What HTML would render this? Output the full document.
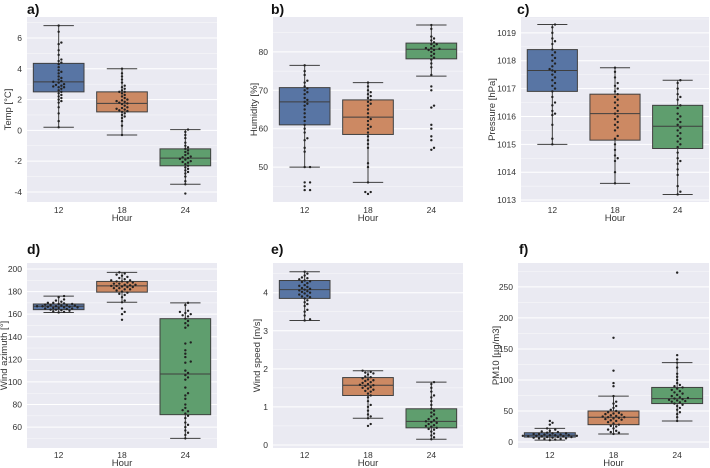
<!DOCTYPE html>
<html><head><meta charset="utf-8">
<style>
html,body{margin:0;padding:0;background:#fff;}
svg{display:block;font-family:"Liberation Sans",Arial,sans-serif;}
</style></head>
<body>
<svg id="fig" width="710" height="468" viewBox="0 0 710 468"></svg>
<script>
const categories = ["12","18","24"];
const colors = ["#5875a4","#cc8963","#5f9e6e"];

// box stats per panel: [q1, median, q3, whiskerLow, whiskerHigh] for each category
const statsA = [[2.5,3.15,4.35,0.2,6.8],[1.2,1.75,2.5,-0.3,4.0],[-2.3,-1.8,-1.2,-3.5,0.05]];
const statsB = [[61,67,70.7,50,76.5],[58.5,63,67.5,46,72],[78.2,80.7,82.3,73.7,87]];
const statsC = [[1016.9,1017.65,1018.4,1015,1019.3],[1015.15,1016.1,1016.8,1013.6,1017.75],[1014.85,1015.65,1016.4,1013.2,1017.3]];
const statsD = [[164,167,169,161.5,176],[179.5,185,189,170.5,197],[71,107,156,50,170]];
const statsE = [[3.85,4.08,4.32,3.27,4.55],[1.3,1.57,1.77,0.7,1.95],[0.45,0.62,0.95,0.15,1.65]];
const statsF = [[8,11,15,3,22],[28,40,50,13,74],[62,70,88,34,128]];

// swarm points
const ptsA12 = [6.8,6.4,5.7,5.6,5.2,4.9,4.6,4.5,4.4,4.3,4.1,3.9,3.8,3.7,3.5,3.4,3.3,3.2,3.15,3.1,3.0,2.95,2.9,2.85,2.8,2.8,2.7,2.6,2.5,2.4,2.3,2.2,2.1,2.0,1.9,1.8,1.5,1.1,0.6,0.2];
const ptsA18 = [4.0,3.7,3.5,3.3,3.1,2.9,2.8,2.7,2.6,2.5,2.5,2.4,2.3,2.2,2.1,2.0,1.95,1.9,1.85,1.8,1.75,1.7,1.6,1.5,1.45,1.4,1.35,1.3,1.25,1.2,1.1,1.0,0.9,0.8,0.6,0.3,-0.3];
const ptsA24 = [0.05,-0.1,-0.3,-0.5,-0.8,-1.0,-1.1,-1.2,-1.3,-1.4,-1.5,-1.6,-1.7,-1.75,-1.8,-1.85,-1.9,-2.0,-2.05,-2.1,-2.2,-2.3,-2.4,-2.5,-2.6,-2.7,-2.8,-3.0,-3.3,-3.5,-4.1];
const ptsB12 = [76.5,75,74,72.5,72,71,70.5,70,69.5,69,68,67.5,67,66.5,66,65,64,63,62,61,60,59,57.5,57,55,54,50,50,46,46,45,44,44];
const ptsB18 = [72,71,70,69.5,69,68.5,68,67.5,67,66.5,66,65,64,63,62.5,62,61,60.5,60,59,58,57,56,55,51,50,46,43.5,43.5,43];
const ptsB24 = [87,86,84,83.5,83,82.5,82,82,81.5,81,81,80.8,80.5,80.5,80,79.5,79,78.5,78,77,76,74,71,70,66,65.5,61,60,58,57,55,54.5];
const ptsC12 = [1019.3,1019.2,1019.0,1018.8,1018.7,1018.6,1018.4,1018.3,1018.2,1018.1,1018.0,1017.9,1017.8,1017.7,1017.65,1017.6,1017.5,1017.4,1017.3,1017.2,1017.1,1017.0,1016.9,1016.7,1016.5,1016.4,1016.2,1016.1,1016.05,1015.7,1015.2,1015.0];
const ptsC18 = [1017.75,1017.6,1017.4,1017.2,1017.1,1017.0,1016.9,1016.8,1016.7,1016.6,1016.5,1016.4,1016.3,1016.2,1016.1,1016.0,1015.9,1015.8,1015.7,1015.6,1015.5,1015.3,1015.2,1015.0,1014.8,1014.6,1014.5,1014.4,1014.0,1013.6];
const ptsC24 = [1017.3,1017.2,1017.0,1016.8,1016.7,1016.6,1016.4,1016.3,1016.1,1016.0,1015.9,1015.8,1015.7,1015.6,1015.5,1015.4,1015.3,1015.2,1015.1,1015.0,1014.9,1014.7,1014.5,1014.4,1014.3,1014.1,1013.9,1013.5,1013.3,1013.2];
const ptsD12 = [176,175,173,172,171,170,170,169.5,169,169,168.5,168,168,167.5,167.5,167,167,167,166.5,166.5,166,166,165.5,165.5,165,165,164.5,164,164,163.5,163,162.5,162,161.5];
const ptsD18 = [197,196,195,194,193,192,191,190,190,189,189,188,188,187,187,186,186,185.5,185,185,184.5,184,184,183,183,182,182,181,180,179,178,177,175,172,170.5,165,162,160,155];
const ptsD24 = [170,168,163,162,161,160,159,158,156,154,152,150,148,135,134,128,125,122,118,117,110,108,106,104,102,95,90,88,85,80,77,75,74,72,70,68,64,62,60,57,55,53,50];
const ptsE12 = [4.55,4.5,4.45,4.4,4.38,4.35,4.32,4.3,4.28,4.25,4.2,4.18,4.15,4.12,4.1,4.08,4.06,4.04,4.02,4.0,3.98,3.95,3.92,3.9,3.88,3.85,3.8,3.75,3.7,3.65,3.55,3.5,3.4,3.3,3.27];
const ptsE18 = [1.95,1.92,1.9,1.88,1.85,1.8,1.78,1.75,1.72,1.7,1.68,1.65,1.63,1.6,1.58,1.57,1.55,1.52,1.5,1.48,1.45,1.42,1.4,1.35,1.3,1.25,1.15,1.05,1.0,0.9,0.8,0.75,0.7,0.55,0.5];
const ptsE24 = [1.65,1.6,1.5,1.4,1.3,1.25,1.15,1.05,0.95,0.9,0.85,0.8,0.75,0.7,0.68,0.65,0.62,0.6,0.58,0.55,0.52,0.5,0.48,0.45,0.42,0.4,0.35,0.3,0.25,0.2,0.15];
const ptsF12 = [34,31,28,22,20,18,17,16,15,14,14,13,13,12,12,11,11,11,10,10,10,9,9,9,8,8,8,7,7,6,6,5,5,4,3];
const ptsF18 = [168,115,95,90,74,65,62,58,55,52,50,48,47,46,45,44,43,42,41,40,40,39,38,37,36,35,34,32,30,28,26,25,22,20,18,16,15,13];
const ptsF24 = [273,140,133,128,120,110,105,100,95,92,90,88,86,84,82,80,78,76,74,72,71,70,69,68,67,66,65,64,62,60,58,55,52,48,45,40,34];

// tick labels
const ticksA = [-4,-2,0,2,4,6];
const ticksB = [50,60,70,80];
const ticksC = [1013,1014,1015,1016,1017,1018,1019];
const ticksD = [60,80,100,120,140,160,180,200];
const ticksE = [0,1,2,3,4];
const ticksF = [0,50,100,150,200,250];

const panels = [
 {id:"a",title:"Temp [°C]",x0:27,x1:217,y0:17,y1:202,vmin:-4.65,vmax:7.36,ticks:ticksA,step:2,stats:statsA,pts:[ptsA12,ptsA18,ptsA24],lx:27,ly:17,tx:8,tk:11,hr:19},
 {id:"b",title:"Humidity [%]",x0:273,x1:463,y0:17,y1:202,vmin:40.9,vmax:89.1,ticks:ticksB,step:10,stats:statsB,pts:[ptsB12,ptsB18,ptsB24],lx:271,ly:17,tx:254,tk:11,hr:19},
 {id:"c",title:"Pressure [hPa]",x0:521,x1:709,y0:17,y1:202,vmin:1012.93,vmax:1019.57,ticks:ticksC,step:1,stats:statsC,pts:[ptsC12,ptsC18,ptsC24],lx:517,ly:17,tx:492,tk:11,hr:19},
 {id:"d",title:"Wind azimuth [°]",x0:27,x1:217,y0:263,y1:448,vmin:41.5,vmax:205.3,ticks:ticksD,step:20,stats:statsD,pts:[ptsD12,ptsD18,ptsD24],lx:27,ly:257,tx:4,tk:10,hr:18},
 {id:"e",title:"Wind speed [m/s]",x0:273,x1:463,y0:263,y1:448,vmin:-0.08,vmax:4.78,ticks:ticksE,step:1,stats:statsE,pts:[ptsE12,ptsE18,ptsE24],lx:271,ly:257,tx:257,tk:10,hr:18},
 {id:"f",title:"PM10 [µg/m3]",x0:518,x1:709,y0:263,y1:448,vmin:-9.6,vmax:288.5,ticks:ticksF,step:50,stats:statsF,pts:[ptsF12,ptsF18,ptsF24],lx:519,ly:257,tx:496,tk:10,hr:18}
];

const NS="http://www.w3.org/2000/svg";
const svg=document.getElementById("fig");
function mk(tag,attrs,parent){const e=document.createElementNS(NS,tag);for(const k in attrs)e.setAttribute(k,attrs[k]);(parent||svg).appendChild(e);return e;}

panels.forEach(p=>{
  const g=mk("g",{});
  
  
  const yS=v=>p.y1-(v-p.vmin)/(p.vmax-p.vmin)*(p.y1-p.y0);
  const bw=(p.x1-p.x0)/3;
  const xS=i=>p.x0+bw*(i+0.5);
  const bg=mk("rect",{x:p.x0,y:p.y0,width:p.x1-p.x0,height:p.y1-p.y0,fill:"#eaeaf2"},g);
  
  
  for(let v=p.ticks[0]-p.step/2; v<=p.vmax; v+=p.step/2){
    if(v<p.vmin) continue;
    const y=yS(v);
    const major=p.ticks.some(t=>Math.abs(t-v)<1e-9);
    mk("line",{x1:p.x0,x2:p.x1,y1:y,y2:y,stroke:"#fff","stroke-width":major?1:0.5,opacity:major?1:0.7},g);
  }
  p.ticks.forEach(t=>{
    const tl=mk("text",{x:p.x0-5,y:yS(t)+3,"text-anchor":"end","font-size":"8.5",fill:"#333"},g);
    tl.textContent=t;
    
    
  });
  const yt=mk("text",{x:0,y:0,transform:`translate(${p.tx+3},${(p.y0+p.y1)/2}) rotate(-90)`,"text-anchor":"middle","font-size":"9.5",fill:"#333"},g);
  yt.textContent=p.title;
  
  
  const xt=mk("text",{x:(p.x0+p.x1)/2,y:p.y1+p.hr,"text-anchor":"middle","font-size":"9.5",fill:"#333"},g);
  xt.textContent="Hour";
  
  
  const lab=mk("text",{x:p.lx,y:p.ly-3,"font-size":"14","font-weight":"bold",fill:"#111"},g);
  lab.textContent=p.id+")";
  
  
  categories.forEach((c,i)=>{
    const cx=xS(i);
    const tl=mk("text",{x:cx,y:p.y1+p.tk,"text-anchor":"middle","font-size":"8.5",fill:"#333"},g);
    tl.textContent=c;
    
    
    const s=p.stats[i];
    const w=bw*0.8, cw=w*0.6;
    mk("line",{x1:cx,x2:cx,y1:yS(s[3]),y2:yS(s[0]),stroke:"#3f3f3f","stroke-width":1},g);
    mk("line",{x1:cx,x2:cx,y1:yS(s[2]),y2:yS(s[4]),stroke:"#3f3f3f","stroke-width":1},g);
    mk("line",{x1:cx-cw/2,x2:cx+cw/2,y1:yS(s[3]),y2:yS(s[3]),stroke:"#3f3f3f","stroke-width":1},g);
    mk("line",{x1:cx-cw/2,x2:cx+cw/2,y1:yS(s[4]),y2:yS(s[4]),stroke:"#3f3f3f","stroke-width":1},g);
    const box=mk("rect",{x:cx-w/2,y:yS(s[2]),width:w,height:yS(s[0])-yS(s[2]),fill:colors[i],stroke:"#3f3f3f","stroke-width":1},g);
    
    
    mk("line",{x1:cx-w/2,x2:cx+w/2,y1:yS(s[1]),y2:yS(s[1]),stroke:"#3f3f3f","stroke-width":1},g);
    const r=1.2, d=3;
    const placed=[];
    const vals=p.pts[i].slice().sort((a,b)=>a-b);
    vals.forEach(v=>{
      const y=yS(v);
      let x=cx;
      for(let k=0;k<60;k++){
        const off=(k%2?1:-1)*Math.ceil(k/2)*d*0.9;
        const tx=cx+off;
        if(!placed.some(q=>Math.hypot(q[0]-tx,q[1]-y)<d)){x=tx;break;}
      }
      placed.push([x,y]);
      const pt=mk("circle",{cx:x,cy:y,r:r,fill:"#222"},g);
      
      
    });
  });
});
</script>
</body></html>
